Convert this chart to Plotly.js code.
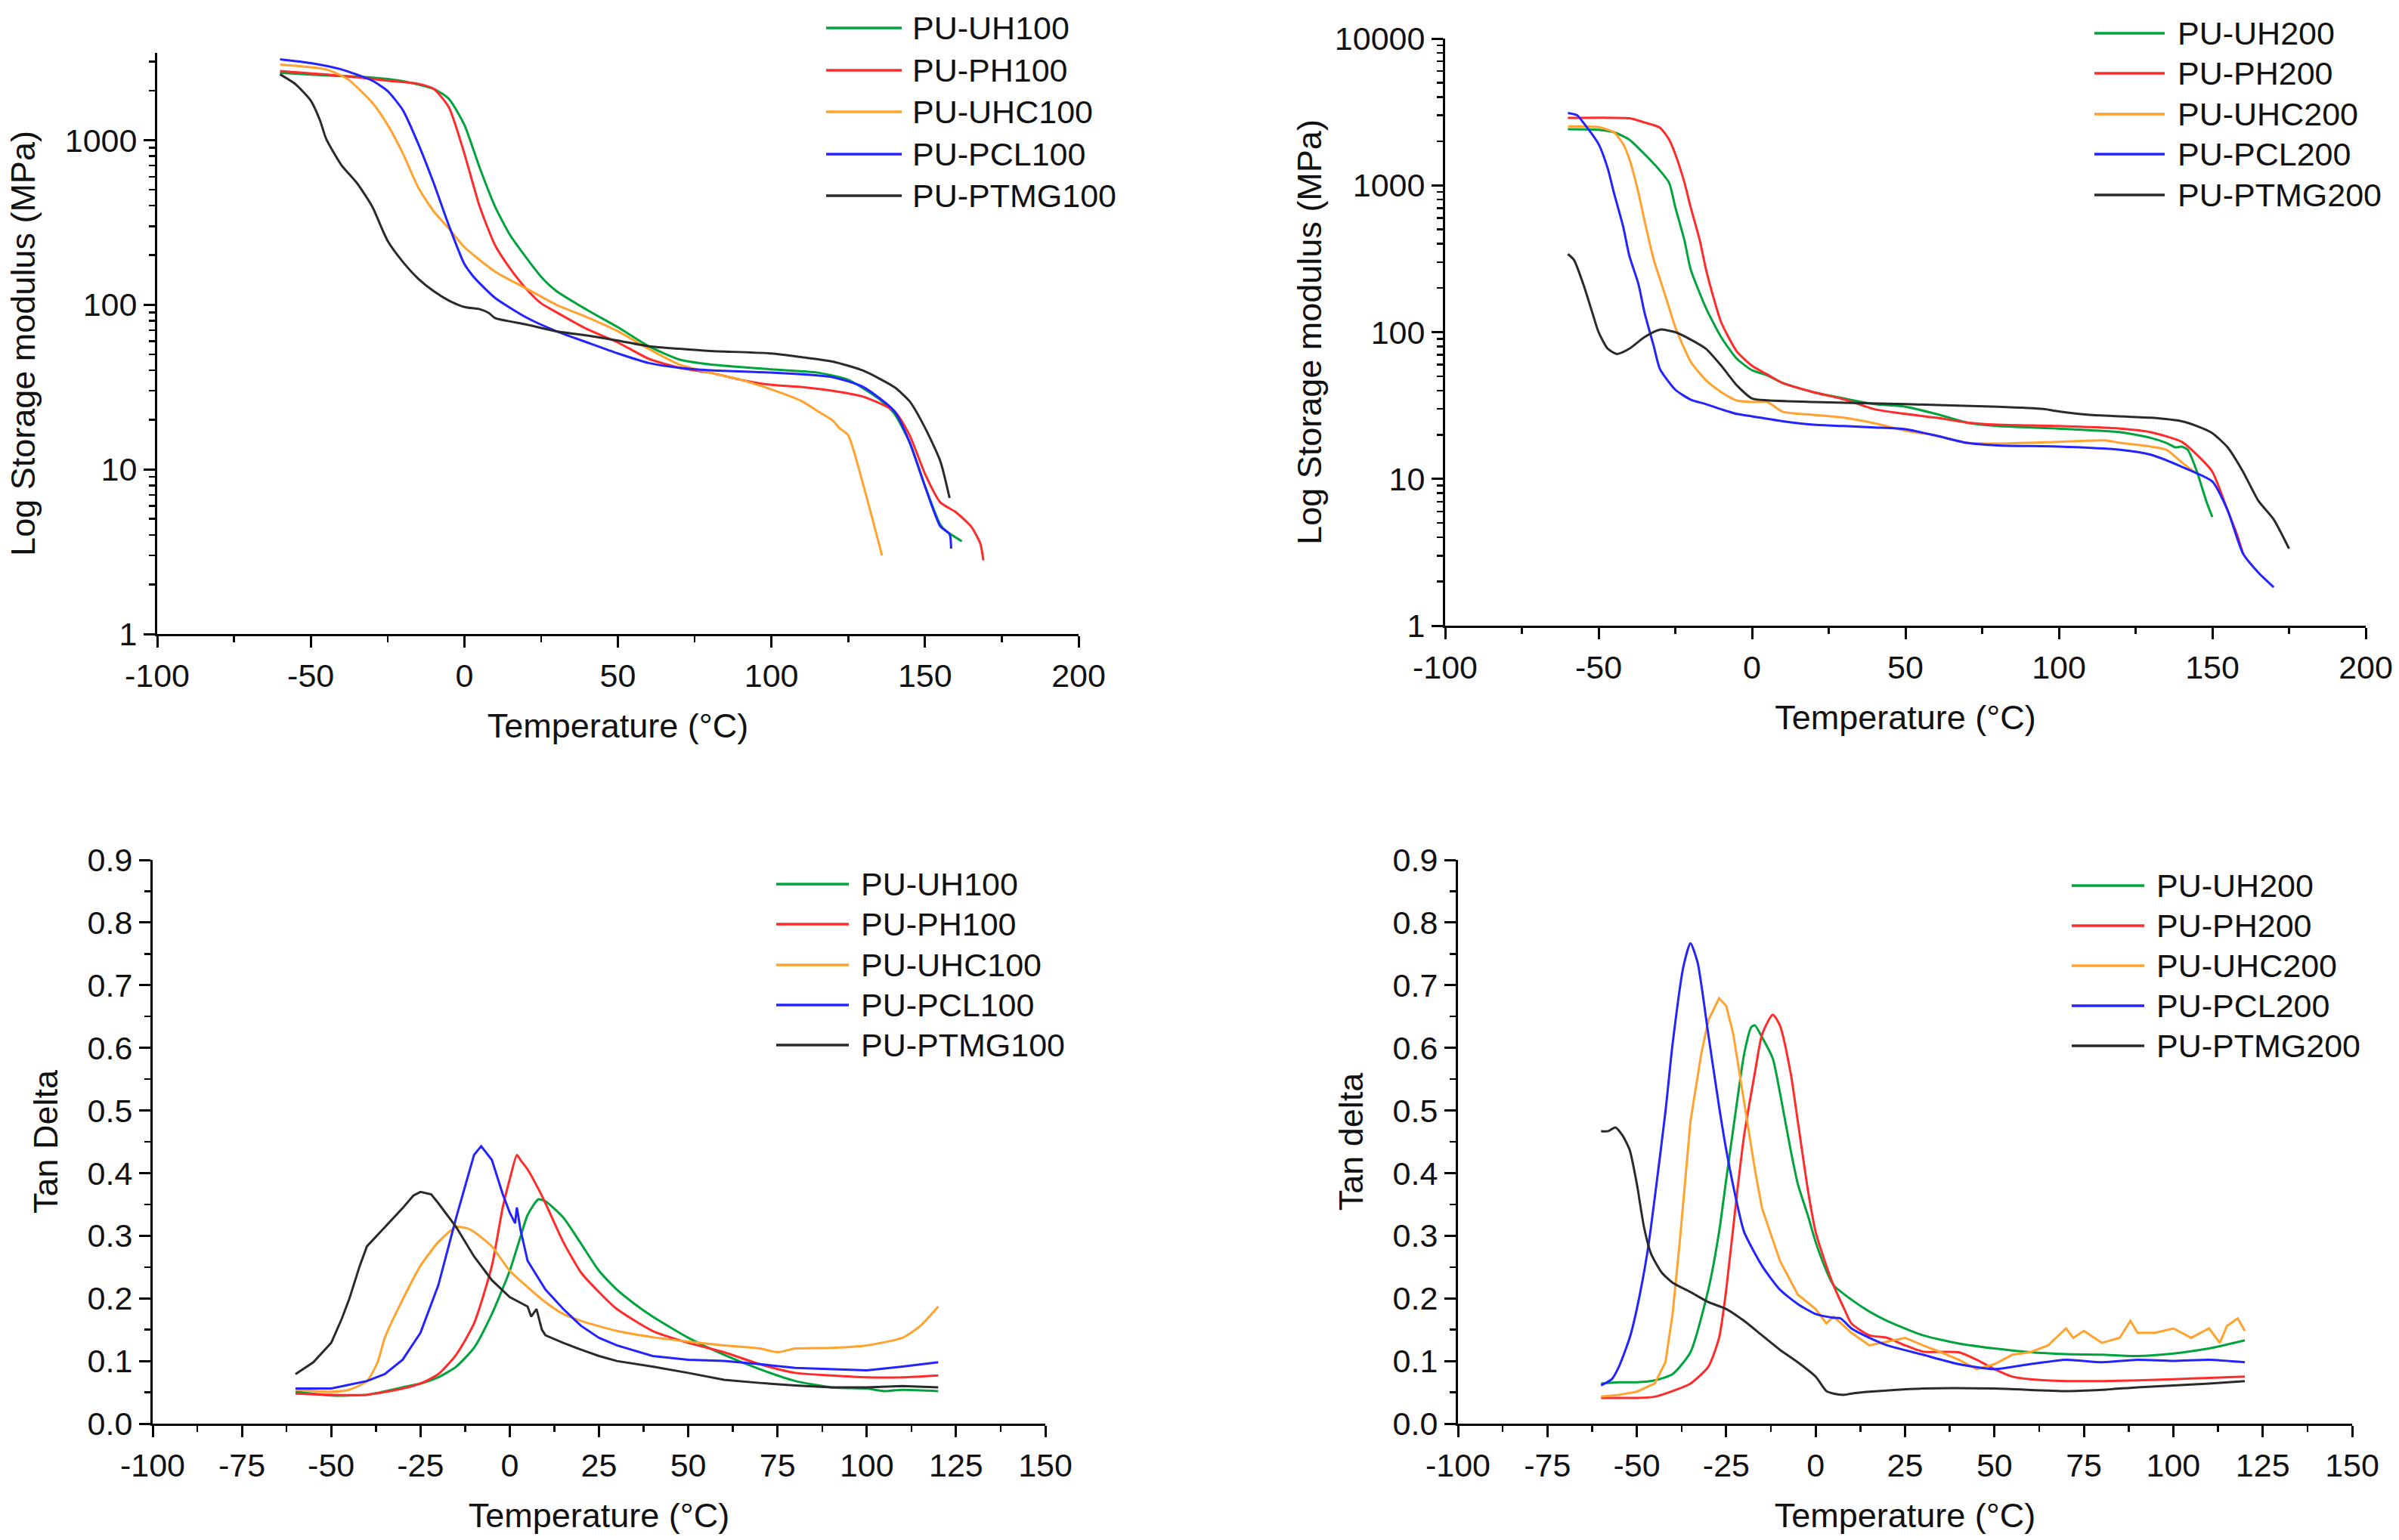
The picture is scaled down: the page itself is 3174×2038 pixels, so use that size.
<!DOCTYPE html>
<html>
<head>
<meta charset="utf-8">
<script src="https://cdn.plot.ly/plotly-3.0.1.min.js"></script>
<style>
  html, body { margin: 0; padding: 0; background: #ffffff; }
  #chart { width: 3174px; height: 2038px; }
</style>
</head>
<body>
<div id="chart"></div>
<script>
// ---------------- DATA ----------------
// Panel A: storage modulus, 100 series (MPa)
const uh100_T = [-60,-50,-40,-30,-20,-10,-5,0,5,10,15,20,25,30,40,50,60,70,80,100,115,125,135,140,145,150,155,157,162];
const uh100_E = [2570,2500,2450,2400,2280,2050,1780,1240,680,395,263,195,148,121,93,73,56,46.5,43.4,40.5,38.7,35,26.8,21.8,14.6,7.9,4.6,4.2,3.66];
const ph100_T = [-60,-40,-25,-15,-10,-5,0,5,10,15,20,25,30,40,50,60,70,80,90,100,110,120,130,140,145,150,155,160,165,168,169];
const ph100_E = [2630,2460,2300,2200,2050,1580,830,395,230,165,126,102,90,71,59,47,41.4,38.7,35,32.6,31.6,30,27.6,22.6,16.1,9.4,6.3,5.5,4.5,3.55,2.8];
const uhc100_T = [-60,-45,-38,-30,-25,-20,-15,-10,-5,0,10,20,30,40,50,60,70,80,90,100,110,115,120,122,125,130,136];
const uhc100_E = [2880,2690,2350,1690,1240,830,515,370,290,224,159,126,100,84,69,54,43.4,38.7,35,30.6,25.9,22.6,19.8,17.9,16.1,7.9,3.0];
const pcl100_T = [-60,-50,-40,-30,-25,-20,-15,-10,-5,0,3,5,10,20,30,40,50,60,70,80,100,120,130,140,145,150,155,158,158.5];
const pcl100_E = [3100,2940,2690,2300,1990,1520,950,550,302,177,148,135,110,84,69,59,50.6,44.3,41.4,40,38.7,36.3,31.6,22.6,14.6,7.9,4.5,4.05,3.3];
const ptmg100_T = [-60,-55,-50,-47,-45,-40,-35,-30,-25,-20,-15,-10,-5,0,5,8,10,20,30,40,50,60,70,80,100,110,120,130,140,145,150,155,158];
const ptmg100_E = [2510,2190,1740,1320,1020,705,550,395,245,182,144,121,106,97,94,89,83,76,69,65,60.6,56,54,52.4,50.6,48,45.2,39.7,31.6,25.9,17.9,11.2,6.7];

// Panel B: storage modulus, 200 series (MPa)
const uh200_T = [-60,-50,-45,-40,-35,-30,-27,-25,-22,-20,-15,-10,-5,0,5,10,20,30,40,50,60,70,80,100,120,130,135,138,140,142,145,148,150];
const uh200_E = [2410,2390,2300,2050,1630,1260,1040,710,420,268,146,92,66,55,50.7,45,39,35.3,32.3,31,27.7,24.2,22.9,22,20.8,19,17.6,16.4,16.6,15.8,11.2,7.1,5.5];
const ph200_T = [-60,-40,-35,-30,-27,-25,-22,-20,-17,-15,-12,-10,-5,0,5,10,20,30,40,50,60,70,80,100,120,130,140,145,150,155,158,160];
const ph200_E = [2880,2860,2680,2470,2050,1630,1040,710,420,268,157,116,74,59,51.4,45,39,34.8,29.8,27.7,26.1,24.2,23.4,22.9,22,20.8,17.9,14.6,11.2,6.1,4.2,3.1];
const uhc200_T = [-60,-50,-45,-42,-40,-37,-35,-32,-30,-27,-25,-20,-15,-10,-5,0,5,10,20,30,40,50,60,70,80,100,115,120,130,135,140,145];
const uhc200_E = [2520,2490,2300,1910,1520,890,570,310,230,146,108,63,47,39,34.2,33.4,33.4,28.7,27.3,26.1,23.9,21.3,19.7,17.6,17.4,17.9,18.3,17.6,16.6,15.8,13.0,10.8];
const pcl200_T = [-60,-57,-55,-50,-47,-45,-42,-40,-37,-35,-32,-30,-25,-20,-15,-10,-5,0,10,20,30,40,50,60,70,80,100,120,130,140,150,155,160,165,170];
const pcl200_E = [3110,3000,2680,1910,1300,890,525,333,212,135,80,56,40.5,34.7,32.3,29.8,27.7,26.7,24.7,23.4,22.9,22.4,21.8,19.7,17.6,16.9,16.6,15.8,14.6,12.1,9.6,6.1,3.1,2.3,1.83];
const ptmg200_T = [-60,-58,-55,-52,-50,-47,-44,-40,-35,-30,-25,-20,-15,-10,-5,0,5,20,50,80,95,100,110,130,140,145,150,155,160,165,170,175];
const ptmg200_E = [340,310,213,135,100,77,71,77,92.6,104,100,89,77,59,43.5,35.3,34.3,33.4,32.3,31,29.9,28.8,27.3,26.1,24.7,22.9,20.5,16.4,11.2,7.1,5.3,3.35];

// Panel C: tan delta, 100 series
const uh100t_T = [-60,-50,-40,-30,-25,-20,-15,-10,-5,0,3,5,8,10,15,20,25,30,35,40,50,60,70,80,90,100,105,110,120];
const uh100t_D = [0.051,0.045,0.046,0.058,0.064,0.074,0.091,0.121,0.175,0.244,0.298,0.333,0.358,0.355,0.329,0.287,0.244,0.214,0.191,0.171,0.137,0.110,0.087,0.068,0.058,0.056,0.052,0.054,0.052];
const ph100t_T = [-60,-50,-40,-30,-25,-20,-15,-10,-5,-2,0,2,3,5,8,10,15,20,25,30,40,50,60,70,80,90,100,110,120];
const ph100t_D = [0.048,0.046,0.046,0.056,0.064,0.079,0.110,0.160,0.252,0.344,0.390,0.429,0.421,0.406,0.375,0.352,0.29,0.241,0.21,0.183,0.148,0.129,0.114,0.095,0.081,0.077,0.074,0.074,0.077];
const uhc100t_T = [-60,-50,-45,-40,-37,-35,-30,-25,-20,-15,-12,-10,-5,0,5,10,15,20,30,40,50,60,70,75,80,90,100,110,115,120];
const uhc100t_D = [0.054,0.051,0.054,0.068,0.098,0.137,0.198,0.252,0.29,0.314,0.312,0.306,0.283,0.244,0.218,0.194,0.175,0.164,0.148,0.138,0.131,0.125,0.120,0.114,0.120,0.121,0.125,0.137,0.156,0.187];
const pcl100t_T = [-60,-50,-40,-35,-30,-25,-20,-15,-10,-8,-5,-2,0,1.5,2,3,5,10,15,20,25,30,40,50,60,70,80,90,100,110,120];
const pcl100t_D = [0.056,0.056,0.068,0.079,0.102,0.145,0.221,0.329,0.429,0.443,0.421,0.367,0.337,0.32,0.345,0.31,0.26,0.214,0.183,0.156,0.137,0.125,0.108,0.102,0.100,0.095,0.089,0.087,0.085,0.091,0.098];
const ptmg100t_T = [-60,-55,-50,-47,-45,-42,-40,-35,-30,-27,-25,-22,-20,-15,-10,-5,0,5,6,7.5,9,10,15,20,25,30,40,50,60,70,80,90,100,110,120];
const ptmg100t_D = [0.079,0.098,0.129,0.168,0.198,0.252,0.283,0.314,0.344,0.364,0.37,0.366,0.352,0.314,0.267,0.229,0.202,0.187,0.171,0.183,0.15,0.141,0.129,0.118,0.108,0.100,0.091,0.081,0.070,0.065,0.061,0.058,0.058,0.060,0.058];

// Panel D: tan delta, 200 series
const uh200t_T = [-60,-55,-50,-45,-40,-35,-30,-27,-25,-22,-20,-18,-17,-15,-12,-10,-7,-5,-2,0,3,5,10,15,20,30,40,50,60,70,80,90,100,110,120];
const uh200t_D = [0.064,0.066,0.066,0.069,0.079,0.114,0.214,0.306,0.39,0.513,0.59,0.633,0.636,0.617,0.583,0.529,0.437,0.383,0.329,0.29,0.244,0.221,0.198,0.179,0.164,0.141,0.128,0.12,0.114,0.111,0.110,0.108,0.112,0.12,0.133];
const ph200t_T = [-60,-55,-50,-45,-40,-35,-30,-27,-25,-22,-20,-17,-15,-12,-10,-7,-5,-2,0,3,5,8,10,15,20,25,30,40,45,50,55,60,70,80,90,100,110,120];
const ph200t_D = [0.041,0.041,0.041,0.043,0.052,0.064,0.091,0.137,0.214,0.367,0.46,0.56,0.621,0.653,0.636,0.56,0.483,0.367,0.306,0.252,0.221,0.183,0.16,0.141,0.137,0.125,0.115,0.114,0.102,0.087,0.075,0.071,0.068,0.068,0.069,0.071,0.073,0.075];
const uhc200t_T = [-60,-55,-50,-45,-42,-40,-38,-35,-32,-30,-27,-25,-23,-20,-17,-15,-10,-5,0,3,5,10,15,20,25,30,35,40,45,50,55,60,65,70,72,75,80,85,88,90,95,100,105,110,113,115,118,120];
const uhc200t_D = [0.043,0.046,0.051,0.064,0.098,0.175,0.29,0.483,0.59,0.644,0.679,0.667,0.621,0.513,0.406,0.344,0.26,0.206,0.183,0.16,0.171,0.145,0.125,0.131,0.137,0.125,0.114,0.102,0.087,0.095,0.11,0.114,0.125,0.152,0.137,0.148,0.129,0.137,0.164,0.145,0.145,0.152,0.137,0.152,0.129,0.156,0.168,0.148];
const pcl200t_T = [-60,-57,-55,-52,-50,-47,-45,-42,-40,-37,-35,-33,-30,-27,-25,-22,-20,-15,-10,-5,0,5,7,10,15,20,30,40,50,60,70,80,90,100,110,120];
const pcl200t_D = [0.061,0.071,0.091,0.137,0.183,0.275,0.36,0.498,0.606,0.729,0.767,0.736,0.621,0.506,0.437,0.352,0.306,0.252,0.214,0.191,0.175,0.169,0.168,0.152,0.137,0.125,0.110,0.095,0.087,0.095,0.102,0.098,0.102,0.1,0.102,0.098];
const ptmg200t_T = [-60,-58,-56,-54,-52,-50,-48,-46,-43,-40,-35,-30,-25,-20,-15,-10,-5,0,3,5,8,10,15,30,50,70,80,90,100,110,120];
const ptmg200t_D = [0.467,0.467,0.473,0.46,0.437,0.383,0.314,0.271,0.241,0.225,0.21,0.194,0.183,0.164,0.141,0.118,0.098,0.075,0.052,0.048,0.046,0.048,0.051,0.056,0.056,0.052,0.054,0.058,0.061,0.064,0.068];

const names100 = ['PU-UH100','PU-PH100','PU-UHC100','PU-PCL100','PU-PTMG100'];
const names200 = ['PU-UH200','PU-PH200','PU-UHC200','PU-PCL200','PU-PTMG200'];
const seriesColors = ['#00a33c','#ff2b2b','#ffa22e','#2323ff','#2a2a2a'];

// tick labels (hyphen-minus as in the reference)
const xTickVals300 = [-100,-50,0,50,100,150,200];
const xTickText300 = ['-100','-50','0','50','100','150','200'];
const xTickVals250 = [-100,-75,-50,-25,0,25,50,75,100,125,150];
const xTickText250 = ['-100','-75','-50','-25','0','25','50','75','100','125','150'];
const logTickVals = [1,10,100,1000,10000];
const logTickText = ['1','10','100','1000','10000'];
const tanTickVals = [0,0.1,0.2,0.3,0.4,0.5,0.6,0.7,0.8,0.9];
const tanTickText = ['0.0','0.1','0.2','0.3','0.4','0.5','0.6','0.7','0.8','0.9'];

// ---------------- PAGE GEOMETRY ----------------
const W = 3174, H = 2038;
const FONT = 'Liberation Sans, Arial, Helvetica, sans-serif';
const px = v => v / W;
const py = v => 1 - v / H;

const panels = [
  {x0: 208,  x1: 1427, yTop: 70,   yBot: 839},   // A
  {x0: 1912, x1: 3130, yTop: 51,   yBot: 828},   // B
  {x0: 202,  x1: 1383, yTop: 1138, yBot: 1884},  // C
  {x0: 1929, x1: 3112, yTop: 1138, yBot: 1884}   // D
];

// minor tick positions for log axes
const logMinor = [];
for (let d = 0; d < 4; d++) for (let k = 2; k <= 9; k++) logMinor.push(k * Math.pow(10, d));

function xAxis(p, range, tv, tt, minorStep, anchor) {
  return {
    domain: [px(p.x0), px(p.x1)], anchor: anchor,
    range: range, tickmode: 'array', tickvals: tv, ticktext: tt,
    showline: true, linecolor: '#000', linewidth: 3,
    ticks: 'outside', ticklen: 15, tickwidth: 3, tickcolor: '#000',
    minor: {ticks: 'outside', ticklen: 8, tickwidth: 2.5, tickcolor: '#000', dtick: minorStep, tick0: -100},
    showgrid: false, zeroline: false, automargin: false,
    tickfont: {family: FONT, size: 43, color: '#111'},
    title: {text: 'Temperature (°C)', font: {family: FONT, size: 45, color: '#111'}, standoff: 28}
  };
}
function yLog(p, range, anchor, standoff) {
  return {
    domain: [py(p.yBot), py(p.yTop)], anchor: anchor, type: 'log', range: range,
    tickmode: 'array', tickvals: logTickVals, ticktext: logTickText,
    showline: true, linecolor: '#000', linewidth: 3,
    ticks: 'outside', ticklen: 15, tickwidth: 3, tickcolor: '#000',
    minor: {tickmode: 'array', tickvals: logMinor, ticks: 'outside', ticklen: 8, tickwidth: 2.5, tickcolor: '#000'},
    showgrid: false, zeroline: false, automargin: false,
    tickfont: {family: FONT, size: 43, color: '#111'},
    title: {text: 'Log Storage modulus (MPa)', font: {family: FONT, size: 45, color: '#111'}, standoff: standoff}
  };
}
function yTan(p, label, anchor) {
  return {
    domain: [py(p.yBot), py(p.yTop)], anchor: anchor, range: [0, 0.9],
    tickmode: 'array', tickvals: tanTickVals, ticktext: tanTickText,
    showline: true, linecolor: '#000', linewidth: 3,
    ticks: 'outside', ticklen: 15, tickwidth: 3, tickcolor: '#000',
    minor: {ticks: 'outside', ticklen: 8, tickwidth: 2.5, tickcolor: '#000', dtick: 0.05, tick0: 0},
    showgrid: false, zeroline: false, automargin: false,
    tickfont: {family: FONT, size: 43, color: '#111'},
    title: {text: label, font: {family: FONT, size: 45, color: '#111'}, standoff: 25}
  };
}

// ---------------- TRACES ----------------
function tr(x, y, name, color, xa, ya, shape) {
  return {x: x, y: y, name: name, type: 'scatter', mode: 'lines', xaxis: xa, yaxis: ya,
          line: {color: color, width: 3, shape: shape || 'spline', smoothing: 0.6},
          showlegend: false, hoverinfo: 'skip'};
}
const traces = [
  tr(uh100_T, uh100_E, names100[0], seriesColors[0], 'x', 'y'),
  tr(ph100_T, ph100_E, names100[1], seriesColors[1], 'x', 'y'),
  tr(uhc100_T, uhc100_E, names100[2], seriesColors[2], 'x', 'y'),
  tr(pcl100_T, pcl100_E, names100[3], seriesColors[3], 'x', 'y'),
  tr(ptmg100_T, ptmg100_E, names100[4], seriesColors[4], 'x', 'y'),

  tr(uh200_T, uh200_E, names200[0], seriesColors[0], 'x2', 'y2'),
  tr(ph200_T, ph200_E, names200[1], seriesColors[1], 'x2', 'y2'),
  tr(uhc200_T, uhc200_E, names200[2], seriesColors[2], 'x2', 'y2'),
  tr(pcl200_T, pcl200_E, names200[3], seriesColors[3], 'x2', 'y2'),
  tr(ptmg200_T, ptmg200_E, names200[4], seriesColors[4], 'x2', 'y2'),

  tr(uh100t_T, uh100t_D, names100[0], seriesColors[0], 'x3', 'y3'),
  tr(ph100t_T, ph100t_D, names100[1], seriesColors[1], 'x3', 'y3'),
  tr(uhc100t_T, uhc100t_D, names100[2], seriesColors[2], 'x3', 'y3'),
  tr(pcl100t_T, pcl100t_D, names100[3], seriesColors[3], 'x3', 'y3', 'linear'),
  tr(ptmg100t_T, ptmg100t_D, names100[4], seriesColors[4], 'x3', 'y3', 'linear'),

  tr(uh200t_T, uh200t_D, names200[0], seriesColors[0], 'x4', 'y4'),
  tr(ph200t_T, ph200t_D, names200[1], seriesColors[1], 'x4', 'y4'),
  tr(uhc200t_T, uhc200t_D, names200[2], seriesColors[2], 'x4', 'y4', 'linear'),
  tr(pcl200t_T, pcl200t_D, names200[3], seriesColors[3], 'x4', 'y4'),
  tr(ptmg200t_T, ptmg200t_D, names200[4], seriesColors[4], 'x4', 'y4')
];

// ---------------- LEGENDS (one per panel) ----------------
const legendBoxes = [
  {names: names100, lx0: 1093, lx1: 1193, tx: 1205, ys: [37, 93, 148, 204, 259]},
  {names: names200, lx0: 2771, lx1: 2864, tx: 2879, ys: [44, 97, 151, 204, 258]},
  {names: names100, lx0: 1027, lx1: 1123, tx: 1137, ys: [1170, 1223, 1277, 1330, 1383]},
  {names: names200, lx0: 2741, lx1: 2837, tx: 2851, ys: [1172, 1225, 1278, 1331, 1384]}
];
const shapes = [];
const annotations = [];
legendBoxes.forEach(b => {
  b.names.forEach((n, i) => {
    shapes.push({type: 'line', xref: 'paper', yref: 'paper',
      x0: px(b.lx0), x1: px(b.lx1), y0: py(b.ys[i]), y1: py(b.ys[i]),
      line: {color: seriesColors[i], width: 3.5}});
    annotations.push({xref: 'paper', yref: 'paper', x: px(b.tx), y: py(b.ys[i]),
      xanchor: 'left', yanchor: 'middle', showarrow: false, text: n,
      font: {family: FONT, size: 43, color: '#111'}});
  });
});

const layout = {
  width: W, height: H,
  margin: {l: 0, r: 0, t: 0, b: 0},
  paper_bgcolor: '#ffffff', plot_bgcolor: '#ffffff',
  showlegend: false,
  font: {family: FONT, color: '#111'},
  xaxis:  xAxis(panels[0], [-100, 200], xTickVals300, xTickText300, 25, 'y'),
  yaxis:  yLog(panels[0], [0, 3.53], 'x', 25),
  xaxis2: xAxis(panels[1], [-100, 200], xTickVals300, xTickText300, 25, 'y2'),
  yaxis2: yLog(panels[1], [0, 4], 'x2', 4),
  xaxis3: xAxis(panels[2], [-100, 150], xTickVals250, xTickText250, 12.5, 'y3'),
  yaxis3: yTan(panels[2], 'Tan Delta', 'x3'),
  xaxis4: xAxis(panels[3], [-100, 150], xTickVals250, xTickText250, 12.5, 'y4'),
  yaxis4: yTan(panels[3], 'Tan delta', 'x4'),
  shapes: shapes,
  annotations: annotations
};

Plotly.newPlot('chart', traces, layout, {displayModeBar: false, staticPlot: true});
</script>
</body>
</html>
